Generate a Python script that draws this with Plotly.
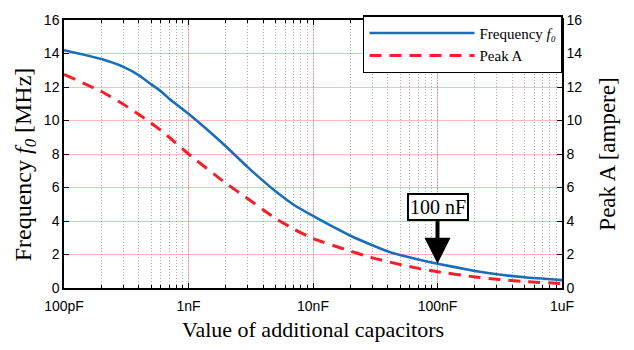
import math
import plotly.graph_objects as go

# Added capacitance in pF
cap_pf = [100, 200, 300, 400, 500, 600, 700, 1000, 2000, 3000, 4000, 5000, 7000,
          10000, 20000, 30000, 40000, 50000, 70000, 100000, 200000, 300000,
          500000, 1000000]
# Resonant frequency f0 in MHz
freq_mhz = [14.2, 13.67, 13.2, 12.7, 12.17, 11.75, 11.3, 10.4, 8.45, 7.2, 6.38, 5.77,
            4.97, 4.3, 3.12, 2.55, 2.18, 1.97, 1.7, 1.45, 1.02, 0.82, 0.64, 0.47]
# Peak current in A
peak_a = [12.75, 11.73, 10.97, 10.36, 9.85, 9.42, 9.0, 8.0, 6.25, 5.33, 4.66, 4.15,
          3.52, 2.95, 2.2, 1.8, 1.57, 1.4, 1.17, 0.97, 0.66, 0.52, 0.38, 0.27]

x_tickvals = [100, 1000, 10000, 100000, 1000000]
x_ticktext = ["100pF", "1nF", "10nF", "100nF", "1uF"]
y_tickvals = [0, 2, 4, 6, 8, 10, 12, 14, 16]

marker_cap = 100000
marker_val = 1.45
marker_text = "100 nF"

serif = "Liberation Serif, Times New Roman, serif"
sans = "Liberation Sans, Arial, sans-serif"

fig = go.Figure()
fig.add_trace(go.Scatter(
    x=cap_pf, y=freq_mhz, mode="lines", name="Frequency <i>f₀</i>",
    line=dict(color="#1a6db8", width=2.6, shape="spline", smoothing=0.5),
))
fig.add_trace(go.Scatter(
    x=cap_pf, y=peak_a, mode="lines", name="Peak A", yaxis="y2",
    line=dict(color="#f2202a", width=3, dash="12px,8px", shape="spline", smoothing=0.5),
))

# log axes take annotation positions as log10 values
fig.add_annotation(
    x=math.log10(marker_cap), y=marker_val, xref="x", yref="y",
    text=marker_text, showarrow=True,
    ax=0, ay=-57, arrowhead=2, arrowsize=1.3, arrowwidth=4, arrowcolor="black",
    standoff=0,
    font=dict(family=serif, size=20, color="black"),
    bgcolor="white", bordercolor="black", borderwidth=2, borderpad=1,
)

# left axis title
fig.add_annotation(
    x=-0.078, y=0.462, xref="paper", yref="paper",
    text="Frequency <i>f<sub>0</sub></i> [MHz]", textangle=-90, showarrow=False,
    xanchor="center", yanchor="middle",
    font=dict(family=serif, size=24, color="black"),
)

axis_common = dict(
    ticks="inside", tickcolor="black", ticklen=5, tickwidth=1.2,
    linecolor="black", linewidth=1.5, showline=True,
    tickfont=dict(family=sans, size=14, color="black"),
    zeroline=False,
)

fig.update_layout(
    width=634, height=350,
    margin=dict(l=64, r=72, t=15, b=56),
    paper_bgcolor="white", plot_bgcolor="white",
    showlegend=True,
    legend=dict(
        x=1.002, y=1.018, xanchor="right", yanchor="top",
        bgcolor="white", bordercolor="black", borderwidth=1.5,
        font=dict(family=serif, size=15, color="black"),
        tracegroupgap=0, itemwidth=105,
    ),
    xaxis=dict(
        type="log", range=[2, 6],
        tickmode="array", tickvals=x_tickvals, ticktext=x_ticktext,
        showgrid=True, gridcolor="rgba(255,120,120,0.5)", gridwidth=1,
        mirror="ticks", ticklabelstandoff=4,
        minor=dict(dtick="D1", showgrid=True, gridcolor="#aaaaaa", griddash="1px,2px",
                   gridwidth=1, ticks="inside", ticklen=3, tickcolor="black"),
        title=dict(text="Value of additional capacitors",
                   font=dict(family=serif, size=22, color="black"), standoff=9),
        **axis_common,
    ),
    yaxis=dict(
        range=[0, 16], tickvals=y_tickvals,
        showgrid=True, gridcolor="rgba(255,120,120,0.5)", gridwidth=1,
        **axis_common,
    ),
    yaxis2=dict(
        range=[0, 16], tickvals=y_tickvals, overlaying="y", side="right",
        showgrid=False,
        title=dict(text="Peak A [ampere]",
                   font=dict(family=serif, size=23, color="black"), standoff=18),
        **axis_common,
    ),
)

fig.write_html("out.html")
